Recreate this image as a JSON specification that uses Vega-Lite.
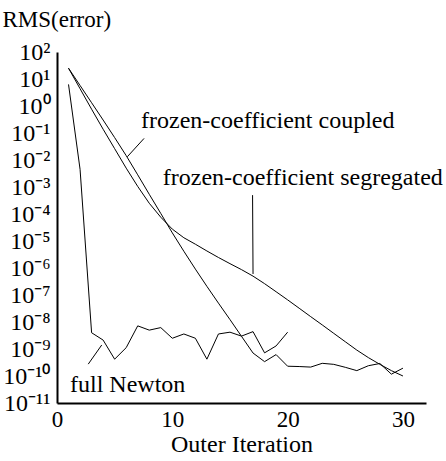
{
  "$schema": "https://vega.github.io/schema/vega-lite/v6.json",
  "autosize": {"type": "none"},
  "width": 369,
  "height": 351,
  "padding": {"left": 57, "top": 52, "right": 20, "bottom": 58},
  "background": "white",
  "config": {"view": {"stroke": null}, "font": "Liberation Serif"},
  "datasets": {
    "curves": [
      {"series": "coupled", "iter": 1, "rms": 25.1},
      {"series": "coupled", "iter": 2, "rms": 5.75},
      {"series": "coupled", "iter": 3, "rms": 1.32},
      {"series": "coupled", "iter": 4, "rms": 0.302},
      {"series": "coupled", "iter": 5, "rms": 0.0676},
      {"series": "coupled", "iter": 6, "rms": 0.0145},
      {"series": "coupled", "iter": 7, "rms": 2.82e-3},
      {"series": "coupled", "iter": 8, "rms": 5.37e-4},
      {"series": "coupled", "iter": 9, "rms": 1.05e-4},
      {"series": "coupled", "iter": 10, "rms": 2.0e-5},
      {"series": "coupled", "iter": 11, "rms": 4.17e-6},
      {"series": "coupled", "iter": 12, "rms": 9.1e-7},
      {"series": "coupled", "iter": 13, "rms": 2.09e-7},
      {"series": "coupled", "iter": 14, "rms": 5.0e-8},
      {"series": "coupled", "iter": 15, "rms": 1.23e-8},
      {"series": "coupled", "iter": 16, "rms": 2.95e-9},
      {"series": "coupled", "iter": 17, "rms": 7.1e-10},
      {"series": "coupled", "iter": 18, "rms": 3.4e-10},
      {"series": "coupled", "iter": 19, "rms": 6.2e-10},
      {"series": "coupled", "iter": 20, "rms": 2.3e-10},
      {"series": "coupled", "iter": 21, "rms": 2.24e-10},
      {"series": "coupled", "iter": 22, "rms": 2.14e-10},
      {"series": "coupled", "iter": 23, "rms": 2.95e-10},
      {"series": "coupled", "iter": 24, "rms": 2.7e-10},
      {"series": "coupled", "iter": 25, "rms": 2.1e-10},
      {"series": "coupled", "iter": 26, "rms": 1.58e-10},
      {"series": "coupled", "iter": 27, "rms": 2.4e-10},
      {"series": "coupled", "iter": 28, "rms": 2.9e-10},
      {"series": "coupled", "iter": 29, "rms": 1.17e-10},
      {"series": "coupled", "iter": 30, "rms": 1.95e-10},
      {"series": "segregated", "iter": 1, "rms": 25.1},
      {"series": "segregated", "iter": 2, "rms": 4.37},
      {"series": "segregated", "iter": 3, "rms": 0.76},
      {"series": "segregated", "iter": 4, "rms": 0.138},
      {"series": "segregated", "iter": 5, "rms": 0.0263},
      {"series": "segregated", "iter": 6, "rms": 5.0e-3},
      {"series": "segregated", "iter": 7, "rms": 1.05e-3},
      {"series": "segregated", "iter": 8, "rms": 2.5e-4},
      {"series": "segregated", "iter": 9, "rms": 7.6e-5},
      {"series": "segregated", "iter": 10, "rms": 2.75e-5},
      {"series": "segregated", "iter": 11, "rms": 1.32e-5},
      {"series": "segregated", "iter": 12, "rms": 7.6e-6},
      {"series": "segregated", "iter": 13, "rms": 4.27e-6},
      {"series": "segregated", "iter": 14, "rms": 2.45e-6},
      {"series": "segregated", "iter": 15, "rms": 1.45e-6},
      {"series": "segregated", "iter": 16, "rms": 8.7e-7},
      {"series": "segregated", "iter": 17, "rms": 5.0e-7},
      {"series": "segregated", "iter": 18, "rms": 2.63e-7},
      {"series": "segregated", "iter": 19, "rms": 1.32e-7},
      {"series": "segregated", "iter": 20, "rms": 6.6e-8},
      {"series": "segregated", "iter": 21, "rms": 3.24e-8},
      {"series": "segregated", "iter": 22, "rms": 1.58e-8},
      {"series": "segregated", "iter": 23, "rms": 7.8e-9},
      {"series": "segregated", "iter": 24, "rms": 3.8e-9},
      {"series": "segregated", "iter": 25, "rms": 1.86e-9},
      {"series": "segregated", "iter": 26, "rms": 9.1e-10},
      {"series": "segregated", "iter": 27, "rms": 4.8e-10},
      {"series": "segregated", "iter": 28, "rms": 2.7e-10},
      {"series": "segregated", "iter": 29, "rms": 1.58e-10},
      {"series": "segregated", "iter": 30, "rms": 1.0e-10},
      {"series": "newton", "iter": 1, "rms": 6.3},
      {"series": "newton", "iter": 2, "rms": 4.5e-3},
      {"series": "newton", "iter": 3, "rms": 4.0e-9},
      {"series": "newton", "iter": 4, "rms": 2.14e-9},
      {"series": "newton", "iter": 5, "rms": 4.2e-10},
      {"series": "newton", "iter": 6, "rms": 1.12e-9},
      {"series": "newton", "iter": 7, "rms": 7.2e-9},
      {"series": "newton", "iter": 8, "rms": 5.0e-9},
      {"series": "newton", "iter": 9, "rms": 6.2e-9},
      {"series": "newton", "iter": 10, "rms": 2.5e-9},
      {"series": "newton", "iter": 11, "rms": 3.6e-9},
      {"series": "newton", "iter": 12, "rms": 2.5e-9},
      {"series": "newton", "iter": 13, "rms": 4.2e-10},
      {"series": "newton", "iter": 14, "rms": 3.6e-9},
      {"series": "newton", "iter": 15, "rms": 4.2e-9},
      {"series": "newton", "iter": 16, "rms": 3.0e-9},
      {"series": "newton", "iter": 17, "rms": 4.4e-9},
      {"series": "newton", "iter": 18, "rms": 7.2e-10},
      {"series": "newton", "iter": 19, "rms": 1.3e-9},
      {"series": "newton", "iter": 20, "rms": 4.2e-9}
    ],
    "labels": [
      {"label": "frozen-coefficient coupled", "iter": 7.29, "rms": 0.153},
      {"label": "frozen-coefficient segregated", "iter": 9.17, "rms": 1.17e-3},
      {"label": "full Newton", "iter": 1.13, "rms": 2.63e-11}
    ],
    "leaders": [
      {"iter": 6.1, "rms": 0.0132, "iter2": 7.55, "rms2": 0.063},
      {"iter": 16.96, "rms": 5.0e-4, "iter2": 17.0, "rms2": 6.0e-7},
      {"iter": 2.71, "rms": 2.75e-10, "iter2": 3.88, "rms2": 1.41e-9}
    ]
  },
  "layer": [
    {
      "data": {"name": "curves"},
      "mark": {"type": "line", "color": "black", "strokeWidth": 1},
      "encoding": {
        "x": {
          "field": "iter", "type": "quantitative",
          "scale": {"domain": [0, 32], "nice": false, "zero": false},
          "axis": {
            "title": "Outer Iteration",
            "titleFont": "Liberation Serif", "titleFontSize": 24, "titleFontWeight": "normal",
            "titleColor": "black", "titleBaseline": "alphabetic", "titleY": 48,
            "values": [0, 2, 4, 6, 8, 10, 12, 14, 16, 18, 20, 22, 24, 26, 28, 30, 32],
            "tickCount": 100,
            "format": "d",
            "labelExpr": "datum.value % 10 == 0 ? datum.label : ''",
            "labelFont": "Liberation Serif", "labelFontSize": 23, "labelColor": "black",
            "labelFlush": false, "labelOverlap": false, "labelPadding": 5,
            "grid": false, "domainColor": "black", "domainWidth": 2,
            "tickSize": 0, "tickColor": "black", "tickWidth": 1,
            "encode": {"ticks": {"update": {"y2": {"signal": "datum.value % 10 == 0 ? -7 : -5"}}}}
          }
        },
        "y": {
          "field": "rms", "type": "quantitative",
          "scale": {"type": "log", "domain": [1e-11, 100], "nice": false},
          "axis": {
            "title": "RMS(error)",
            "titleFont": "Liberation Serif", "titleFontSize": 23, "titleFontWeight": "normal",
            "titleColor": "black", "titleAngle": 0, "titleAlign": "left", "titleBaseline": "alphabetic",
            "titleX": -55, "titleY": -26,
            "tickCount": 200,
            "labelExpr": "abs(log(datum.value)/LN10 - round(log(datum.value)/LN10)) < 0.001 ? '10' + ['⁻¹¹','⁻¹⁰','⁻⁹','⁻⁸','⁻⁷','⁻⁶','⁻⁵','⁻⁴','⁻³','⁻²','⁻¹','⁰','¹','²'][round(log(datum.value)/LN10)+11] : ''",
            "labelFont": "Liberation Serif", "labelFontSize": 24, "labelColor": "black",
            "labelOverlap": false, "labelPadding": 7, "labelFlush": false, "labelBound": false,
            "grid": false, "domainColor": "black", "domainWidth": 2,
            "tickSize": 0, "tickColor": "black", "tickWidth": 1,
            "encode": {"ticks": {"update": {"x2": {"signal": "abs(log(datum.value)/LN10 - round(log(datum.value)/LN10)) < 0.001 ? 6 : 3"}}}}
          }
        },
        "detail": {"field": "series"}
      }
    },
    {
      "data": {"name": "leaders"},
      "mark": {"type": "rule", "color": "black", "strokeWidth": 1},
      "encoding": {
        "x": {"field": "iter", "type": "quantitative"},
        "y": {"field": "rms", "type": "quantitative"},
        "x2": {"field": "iter2"},
        "y2": {"field": "rms2"}
      }
    },
    {
      "data": {"name": "labels"},
      "mark": {"type": "text", "align": "left", "baseline": "alphabetic", "font": "Liberation Serif", "fontSize": 24, "color": "black"},
      "encoding": {
        "x": {"field": "iter", "type": "quantitative"},
        "y": {"field": "rms", "type": "quantitative"},
        "text": {"field": "label"}
      }
    }
  ]
}
